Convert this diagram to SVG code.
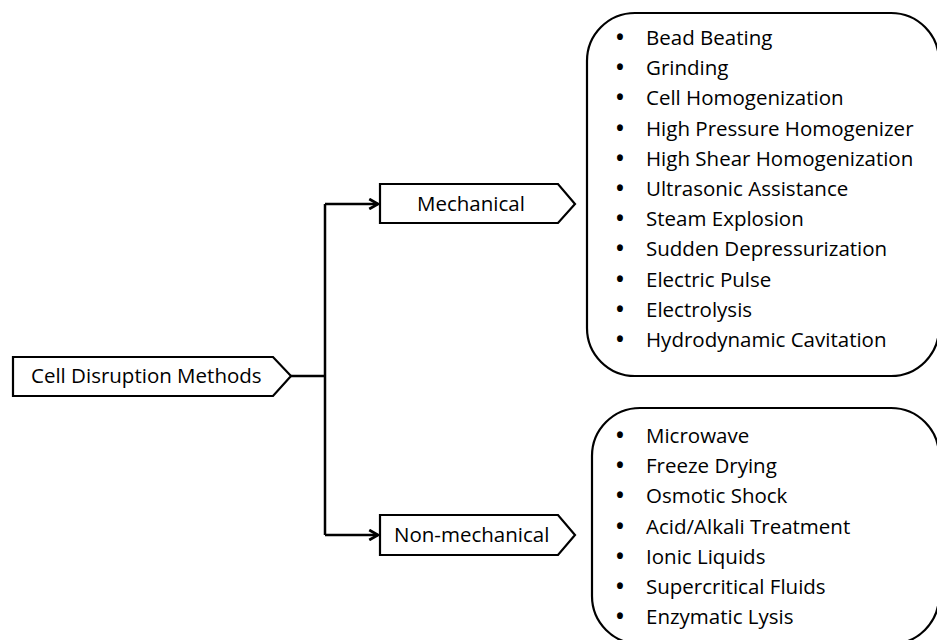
<svg xmlns="http://www.w3.org/2000/svg" width="937" height="640" viewBox="0 0 937 640">
<defs>
<style>
.box{fill:#fff;stroke:#000;stroke-width:2.2;stroke-linejoin:miter}
.grp{fill:none;stroke:#000;stroke-width:2.2}
.conn{fill:none;stroke:#000;stroke-width:2.5}
text{font-family:"Open Sans","Liberation Sans",sans-serif;font-size:20.5px;fill:#000}
.bul{text-anchor:middle;font-weight:bold;font-size:21px}
</style>
<marker id="arr" viewBox="0 0 10 10" refX="9" refY="5" markerWidth="5" markerHeight="5" markerUnits="strokeWidth" orient="auto">
<polyline points="2,1 9,5 2,9" fill="none" stroke="#000" stroke-width="2.2"/>
</marker>
</defs>
<rect width="937" height="640" fill="#fff"/>
<g id="connectors">
<polyline class="conn" points="290,376 325,376"/>
<polyline class="conn" points="325,204 325,535"/>
<polyline class="conn" points="325,204 378,204" marker-end="url(#arr)"/>
<polyline class="conn" points="325,535 378,535" marker-end="url(#arr)"/>
</g>
<g id="root">
<polygon class="box" points="13,357 273,357 291,376 273,396 13,396"/>
<text x="31" y="383">Cell Disruption Methods</text>
</g>
<g id="mechanical">
<polygon class="box" points="380,184 558,184 575,204 558,223 380,223"/>
<text x="417" y="211">Mechanical</text>
</g>
<g id="nonmechanical">
<polygon class="box" points="380,515 558,515 575,535 558,555 380,555"/>
<text x="394" y="542">Non-mechanical</text>
</g>
<g id="mechanical-list">
<rect class="grp" x="587" y="13" width="352" height="363" rx="48" ry="48"/>
<text y="45"><tspan class="bul" x="620">•</tspan><tspan x="646">Bead Beating</tspan></text>
<text y="75.2"><tspan class="bul" x="620">•</tspan><tspan x="646">Grinding</tspan></text>
<text y="105.4"><tspan class="bul" x="620">•</tspan><tspan x="646">Cell Homogenization</tspan></text>
<text y="135.6"><tspan class="bul" x="620">•</tspan><tspan x="646">High Pressure Homogenizer</tspan></text>
<text y="165.8"><tspan class="bul" x="620">•</tspan><tspan x="646">High Shear Homogenization</tspan></text>
<text y="196"><tspan class="bul" x="620">•</tspan><tspan x="646">Ultrasonic Assistance</tspan></text>
<text y="226.2"><tspan class="bul" x="620">•</tspan><tspan x="646">Steam Explosion</tspan></text>
<text y="256.4"><tspan class="bul" x="620">•</tspan><tspan x="646">Sudden Depressurization</tspan></text>
<text y="286.6"><tspan class="bul" x="620">•</tspan><tspan x="646">Electric Pulse</tspan></text>
<text y="316.8"><tspan class="bul" x="620">•</tspan><tspan x="646">Electrolysis</tspan></text>
<text y="347"><tspan class="bul" x="620">•</tspan><tspan x="646">Hydrodynamic Cavitation</tspan></text>
</g>
<g id="nonmechanical-list">
<rect class="grp" x="592" y="408" width="347" height="236" rx="48" ry="48"/>
<text y="443"><tspan class="bul" x="620">•</tspan><tspan x="646">Microwave</tspan></text>
<text y="473.2"><tspan class="bul" x="620">•</tspan><tspan x="646">Freeze Drying</tspan></text>
<text y="503.4"><tspan class="bul" x="620">•</tspan><tspan x="646">Osmotic Shock</tspan></text>
<text y="533.6"><tspan class="bul" x="620">•</tspan><tspan x="646">Acid/Alkali Treatment</tspan></text>
<text y="563.8"><tspan class="bul" x="620">•</tspan><tspan x="646">Ionic Liquids</tspan></text>
<text y="594"><tspan class="bul" x="620">•</tspan><tspan x="646">Supercritical Fluids</tspan></text>
<text y="624.2"><tspan class="bul" x="620">•</tspan><tspan x="646">Enzymatic Lysis</tspan></text>
</g>
</svg>
